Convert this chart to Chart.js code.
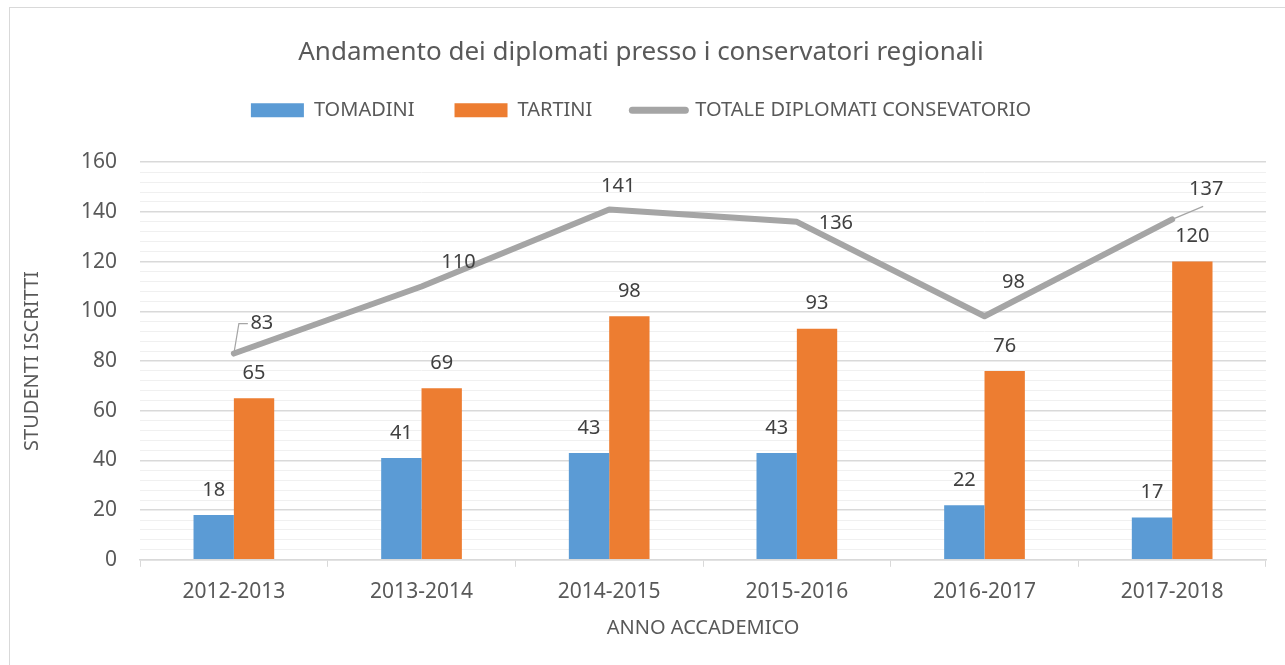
<!DOCTYPE html>
<html>
<head>
<meta charset="utf-8">
<script src="https://cdn.jsdelivr.net/npm/chart.js@4.4.1/dist/chart.umd.min.js"></script>
<style>
  html, body { margin: 0; padding: 0; background: #fff; }
  #wrap { position: relative; width: 1285px; height: 665px; }
  #frame { position: absolute; left: 9px; top: 7px; width: 1300px; height: 700px; border: 1px solid #d9d9d9; box-sizing: border-box; }
  canvas { position: absolute; left: 0; top: 0; }
</style>
</head>
<body>
<div id="wrap">
  <div id="frame"></div>
  <canvas id="chart" width="1285" height="665"></canvas>
</div>
<script>
// Data
const years = ['2012-2013', '2013-2014', '2014-2015', '2015-2016', '2016-2017', '2017-2018'];
const tomadini = [18, 41, 43, 43, 22, 17];
const tartini = [65, 69, 98, 93, 76, 120];
const totale = [83, 110, 141, 136, 98, 137];

const FONT = '"Noto Sans", "Open Sans", sans-serif';
const TEXT = '#595959';

// label placement for the total line (dx, dy from the point), leader line where Excel drew one
const lineLabelPos = [
  { dx: 28, dy: -30, leader: true },
  { dx: 37, dy: -24 },
  { dx: 9, dy: -23 },
  { dx: 39, dy: 1 },
  { dx: 29, dy: -34 },
  { dx: 34, dy: -30, leader: true },
];

// Simple data-label plugin
const valueLabels = {
  id: 'valueLabels',
  afterDatasetsDraw(chart) {
    const ctx = chart.ctx;
    ctx.save();
    ctx.font = '20px ' + FONT;
    ctx.fillStyle = '#404040';
    ctx.textAlign = 'center';
    ctx.textBaseline = 'middle';
    chart.data.datasets.forEach((ds, di) => {
      const meta = chart.getDatasetMeta(di);
      meta.data.forEach((el, i) => {
        const v = ds.data[i];
        if (ds.type === 'line') {
          const p = lineLabelPos[i];
          const lx = el.x + p.dx, ly = el.y + p.dy;
          if (p.leader) {
            ctx.strokeStyle = '#a5a5a5';
            ctx.lineWidth = 1.2;
            ctx.beginPath();
            if (i === 0) {
              ctx.moveTo(el.x, el.y);
              ctx.lineTo(el.x + 5, ly);
              ctx.lineTo(lx - 14, ly);
            } else {
              ctx.moveTo(el.x, el.y);
              ctx.lineTo(lx - 3, ly + 17);
            }
            ctx.stroke();
          }
          ctx.fillText(String(v), lx, ly);
        } else {
          ctx.fillText(String(v), el.x, el.y - 25);
        }
      });
    });
    ctx.restore();
  }
};

// extra room under the legend, like the Excel layout
const legendGap = {
  id: 'legendGap',
  beforeInit(chart) {
    const fit = chart.legend.fit;
    chart.legend.fit = function () {
      fit.bind(chart.legend)();
      this.height += 32;
    };
  }
};

new Chart(document.getElementById('chart'), {
  data: {
    labels: years,
    datasets: [
      { type: 'line', label: 'TOTALE DIPLOMATI CONSEVATORIO', data: totale, borderColor: '#a5a5a5', backgroundColor: '#a5a5a5',
        borderWidth: 6, pointRadius: 0, pointStyle: 'line', borderCapStyle: 'round', borderJoinStyle: 'round', tension: 0, order: 0 },
      { type: 'bar', label: 'TOMADINI', data: tomadini, backgroundColor: '#5b9bd5', pointStyle: 'rect', order: 1 },
      { type: 'bar', label: 'TARTINI', data: tartini, backgroundColor: '#ed7d31', pointStyle: 'rect', order: 1 },
    ]
  },
  options: {
    responsive: false,
    animation: false,
    devicePixelRatio: 1,
    layout: { padding: { top: 37, left: 16, right: 19, bottom: 25 } },
    datasets: { bar: { categoryPercentage: 0.43, barPercentage: 1 } },
    plugins: {
      title: { display: true, text: 'Andamento dei diplomati presso i conservatori regionali', color: TEXT,
        font: { family: FONT, size: 26, weight: 'normal' }, padding: { top: 0, bottom: -8 } },
      legend: {
        position: 'top',
        labels: {
          color: TEXT, font: { family: FONT, size: 20 }, usePointStyle: true, pointStyleWidth: 53, boxHeight: 14,
          padding: 40,
          sort: (a, b) => {
            const rank = { 'TOMADINI': 0, 'TARTINI': 1 };
            return (rank[a.text] ?? 2) - (rank[b.text] ?? 2);
          },
          generateLabels(chart) {
            const items = Chart.defaults.plugins.legend.labels.generateLabels(chart);
            items.forEach(it => {
              if (it.pointStyle === 'line') { it.lineWidth = 7; it.lineCap = 'round'; it.strokeStyle = '#a5a5a5'; }
              else { it.lineWidth = 0; }
            });
            return items;
          }
        }
      },
      tooltip: { enabled: false }
    },
    scales: {
      x: {
        title: { display: true, text: 'ANNO ACCADEMICO', color: TEXT, font: { family: FONT, size: 20 }, padding: { top: -2, bottom: 0 } },
        ticks: { color: TEXT, font: { family: FONT, size: 21 }, padding: 13 },
        grid: { display: true, drawOnChartArea: false, drawTicks: true, tickLength: 7, offset: true, color: '#d9d9d9' },
        border: { color: '#d9d9d9', width: 1.5 }
      },
      y: {
        min: 0, max: 160,
        title: { display: true, text: 'STUDENTI ISCRITTI', color: TEXT, font: { family: FONT, size: 20 }, padding: { bottom: 14 } },
        ticks: { stepSize: 4, autoSkip: false, color: TEXT, font: { family: FONT, size: 21 }, padding: 23,
          callback: v => (v % 20 === 0 ? v : '') },
        grid: { drawTicks: false, color: ctx => (ctx.tick && ctx.tick.value % 20 === 0 ? '#d9d9d9' : '#f0f0f0'), lineWidth: ctx => (ctx.tick && ctx.tick.value % 20 === 0 ? 1.5 : 1) },
        border: { display: false }
      }
    }
  },
  plugins: [valueLabels, legendGap]
});
</script>
</body>
</html>
